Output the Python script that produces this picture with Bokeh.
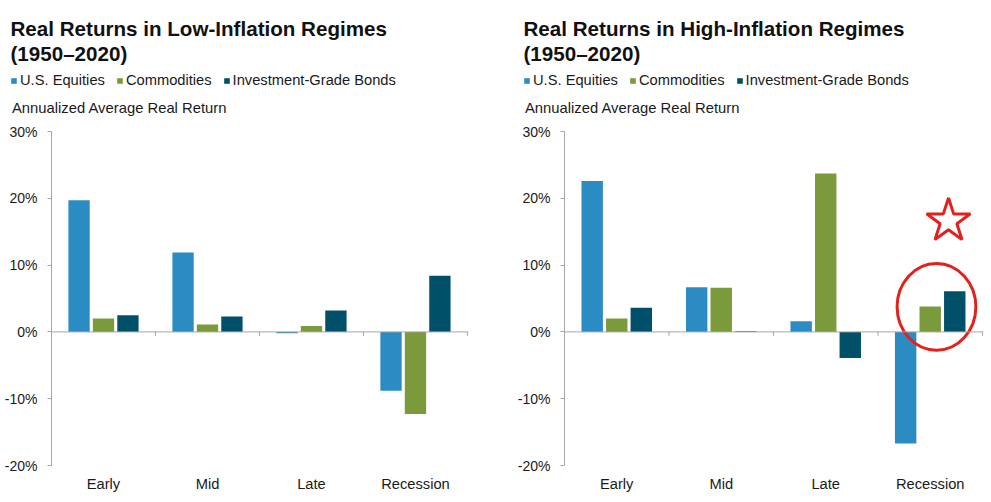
from bokeh.plotting import figure
from bokeh.layouts import row, column
from bokeh.models import (Range1d, FixedTicker, PrintfTickFormatter, Span, Label,
                          Legend, LegendItem)
from bokeh.embed import file_html
from bokeh.resources import INLINE

# ---------------- data ----------------
categories = ["Early", "Mid", "Late", "Recession"]
series = ["U.S. Equities", "Commodities", "Investment-Grade Bonds"]

low_equities = [19.7, 11.9, -0.2, -8.8]
low_commodities = [2.0, 1.1, 0.9, -12.3]
low_bonds = [2.5, 2.3, 3.2, 8.4]

high_equities = [22.6, 6.7, 1.6, -16.7]
high_commodities = [2.0, 6.6, 23.7, 3.8]
high_bonds = [3.6, 0.1, -3.9, 6.1]

y_ticks = [-20, -10, 0, 10, 20, 30]
y_label = "Annualized Average Real Return"
titles = [["Real Returns in Low-Inflation Regimes", "(1950\u20132020)"],
          ["Real Returns in High-Inflation Regimes", "(1950\u20132020)"]]

colors = ["#2b8cc4", "#7a9a3c", "#00506a"]
FONT = "Liberation Sans"
GRAY = "#a6a6a6"
TXT = "#1a1a1a"

HEAD_H = 121
CHART_H = 379
TOP, BOTTOM, LEFT = 10, 35, 51
N = len(categories)


def make_header(title_lines, width):
    h = figure(width=width, height=HEAD_H, x_range=Range1d(0, width),
               y_range=Range1d(HEAD_H, 0), output_backend="svg",
               toolbar_location=None, min_border_left=0, min_border_right=0,
               min_border_top=0, min_border_bottom=0, outline_line_color=None,
               x_axis_location=None, y_axis_location=None)
    h.xgrid.visible = False
    h.ygrid.visible = False
    for line, base in zip(title_lines, [28, 53]):
        h.add_layout(Label(x=10, y=base, text=line, text_font=FONT,
                           text_font_size="20.6px", text_font_style="bold",
                           text_color="#111111", text_baseline="alphabetic",
                           text_align="left"))
    h.add_layout(Label(x=11.5, y=107, text=y_label, text_font=FONT,
                       text_font_size="14.8px", text_color=TXT,
                       text_baseline="alphabetic", text_align="left"))
    # legend swatches: zero-size bars that only feed the legend
    dummies = [h.vbar(x=[0], top=[0], bottom=[0], width=0, fill_color=c,
                      line_color=None) for c in colors]
    items = [LegendItem(label=s, renderers=[r]) for s, r in zip(series, dummies)]
    legend = Legend(items=items, orientation="horizontal", location=(10, 33),
                    glyph_width=7, glyph_height=7, label_standoff=3, spacing=11,
                    padding=0, margin=0, border_line_color=None,
                    background_fill_alpha=0, label_text_font=FONT,
                    label_text_font_size="14.7px", label_text_color=TXT,
                    label_height=7)
    h.add_layout(legend)
    return h


def make_chart(data, width, mbr, highlight=False):
    p = figure(width=width, height=CHART_H, x_range=Range1d(0, N + 0.01),
               y_range=Range1d(y_ticks[0], y_ticks[-1]),
               output_backend="svg", toolbar_location=None,
               min_border_left=LEFT, min_border_right=mbr,
               min_border_top=TOP, min_border_bottom=BOTTOM,
               outline_line_color=None)
    p.xgrid.visible = False
    p.ygrid.visible = False

    for j, (vals, col) in enumerate(zip(data, colors)):
        xs = [i + 0.5 + (j - 1) * 0.235 for i in range(N)]
        p.vbar(x=xs, top=vals, bottom=0, width=0.205, fill_color=col, line_color=None)

    p.add_layout(Span(location=0, dimension="width", line_color=GRAY, line_width=1))
    bounds = list(range(1, N + 1))
    p.segment(x0=bounds, y0=[0] * N, x1=bounds, y1=[-0.6] * N,
              line_color=GRAY, line_width=1)

    ya = p.yaxis[0]
    ya.ticker = FixedTicker(ticks=y_ticks)
    ya.formatter = PrintfTickFormatter(format="%d%%")
    ya.axis_line_color = GRAY
    ya.major_tick_line_color = GRAY
    ya.major_tick_in = 0
    ya.major_tick_out = 4
    ya.minor_tick_line_color = None
    ya.major_label_text_font = FONT
    ya.major_label_text_font_size = "14px"
    ya.major_label_text_color = TXT
    ya.major_label_standoff = 10

    xa = p.xaxis[0]
    xa.ticker = FixedTicker(ticks=[i + 0.5 for i in range(N)])
    xa.major_label_overrides = {i + 0.5: c for i, c in enumerate(categories)}
    xa.axis_line_color = None
    xa.major_tick_line_color = None
    xa.major_tick_in = 0
    xa.major_tick_out = 0
    xa.minor_tick_line_color = None
    xa.major_label_text_font = FONT
    xa.major_label_text_font_size = "14.7px"
    xa.major_label_text_color = TXT
    xa.major_label_standoff = 10

    if highlight:
        p.ellipse(x=3.56, y=3.75, width=0.754, height=13, fill_color=None,
                  line_color="#e3201b", line_width=3)
        p.scatter(x=[3.675], y=[16.6], marker="star", size=46, fill_color=None,
                  line_color="#e3201b", line_width=3)
    return p


h1 = make_header(titles[0], 513)
h2 = make_header(titles[1], 478)
p1 = make_chart([low_equities, low_commodities, low_bonds], width=513, mbr=45)
p2 = make_chart([high_equities, high_commodities, high_bonds], width=478, mbr=8,
                highlight=True)

layout = column(row(h1, h2, spacing=0), row(p1, p2, spacing=0), spacing=0)
open("out.html", "w").write(file_html(layout, INLINE))
